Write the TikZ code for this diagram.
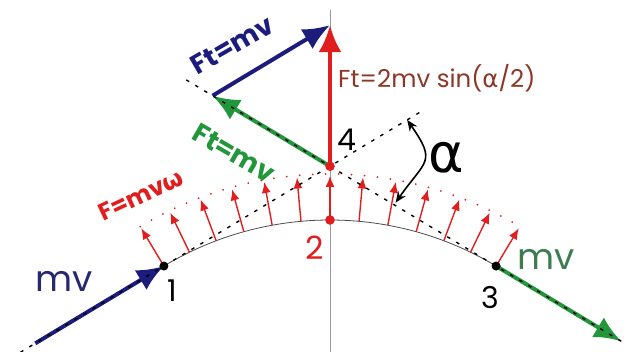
\documentclass[tikz,border=0pt]{standalone}
\usepackage{fontspec}
\setmainfont{Poppins}
\newfontfamily\greekfont{DejaVu Sans}
\usetikzlibrary{calc,arrows.meta}
\definecolor{navy}{RGB}{28,28,125}
\definecolor{fgreen}{RGB}{34,150,58}
\definecolor{fred}{RGB}{225,30,30}
\definecolor{mvgreen}{RGB}{60,125,80}
\definecolor{mvblue}{RGB}{40,40,110}
\definecolor{brownred}{RGB}{140,55,40}

\begin{document}
\begin{tikzpicture}[x=1pt,y=1pt,
  bigarrow/.style={line width=4pt,-{Latex[length=27pt,width=23pt]}},
  smallarrow/.style={fred,line width=1.4pt,-{Latex[length=11pt,width=9pt]}},
  tangent/.style={black,line width=1.4pt,dash pattern=on 3.5pt off 7pt},
  lbl/.style={inner sep=0pt}]
\useasboundingbox (0,0) rectangle (626,352);
\def\R{322.5}
\coordinate (C) at (330,-190.5);
\coordinate (p1) at ($(C)+(121:\R)$);
\coordinate (p2) at ($(C)+(90:\R)$);
\coordinate (p3) at ($(C)+(59:\R)$);
\coordinate (p4) at ($(C)+(0,{\R/cos(31)})$);
\coordinate (q) at ($(p4)+(149:137)$);
\coordinate (top) at ($(q)+(31:137)$);
\coordinate (axtop) at (330,342);
\coordinate (axbot) at (330,0);
% axis and path
\draw[gray!80, line width=0.8pt] (axbot) -- (axtop);
\draw[black!70, line width=0.8pt] (p1) arc (121:59:\R);
\draw[fred, line width=2pt, line cap=round, dash pattern=on 0pt off 13pt]
  ($(C)+(121:\R+46)$) arc (121:59:\R+46);
\foreach \i in {-6,...,6}
  \draw[smallarrow] ($(C)+(90+\i*31/6:\R)$) -- ($(C)+(90+\i*31/6:\R+44)$);
% momentum arrows
\coordinate (in) at ($(p1)+(211:150)$);
\coordinate (out) at ($(p3)+(-31:146)$);
\draw[bigarrow, navy] (in) -- (p1);
\draw[bigarrow, fgreen] (p3) -- (out);
\draw[bigarrow, fred] (p4) -- (top);
\draw[bigarrow, fgreen] (p4) -- (q);
\draw[bigarrow, navy] (q) -- (top);
% tangents
\draw[tangent] ($(p1)+(211:178)$) -- ($(p1)+(31:300)$);
\draw[tangent] ($(p3)+(-31:146)$) -- ($(p3)+(149:365)$);
% angle
\coordinate (ua) at ($(p4)+(31:90)$);
\coordinate (la) at ($(p4)+(-29:75)$);
\draw[black, line width=1.6pt, {Stealth[length=11pt,width=9pt]}-{Stealth[length=11pt,width=9pt]}]
  (ua) to[out=-55, in=55, looseness=1.6] (la);
% points
\fill[black] (p1) circle (4.5pt);
\fill[black] (p3) circle (4.5pt);
\fill[fred] (p2) circle (4.8pt);
\fill[fred] (p4) circle (4.8pt);
% labels
\node[lbl, mvblue, font=\fontsize{36}{36}\selectfont] (mvin) at (64,71) {mv};
\node[lbl, mvgreen, font=\fontsize{36}{36}\selectfont] (mvout) at (546,93) {mv};
\node[lbl, font=\fontsize{30}{30}\selectfont] (n1) at (172,61) {1};
\node[lbl, fred, font=\fontsize{32}{32}\selectfont] (n2) at (315,104) {2};
\node[lbl, font=\fontsize{30}{30}\selectfont] (n3) at (490,54) {3};
\node[lbl, font=\fontsize{30}{30}\selectfont] (n4) at (347,212) {4};
\node[lbl, font=\fontsize{54}{54}\greekfont] (alpha) at (446,194) {α};
\node[lbl, anchor=west, brownred, font=\fontsize{24.5}{24.5}\selectfont] (ft2) at (338,273.5)
  {Ft=2mv sin({\greekfont α}/2)};
\node[lbl, navy, rotate=30, font=\fontsize{27}{27}\selectfont\bfseries] (ftblue) at (232,307) {Ft=mv};
\node[lbl, fgreen, rotate=-30, font=\fontsize{27}{27}\selectfont\bfseries] (ftgreen) at (234,199) {Ft=mv};
\node[lbl, fred, rotate=25, font=\fontsize{24}{24}\selectfont\bfseries] (fmw) at (141,157) {F=mv{\greekfont ω}};
\end{tikzpicture}
\end{document}
